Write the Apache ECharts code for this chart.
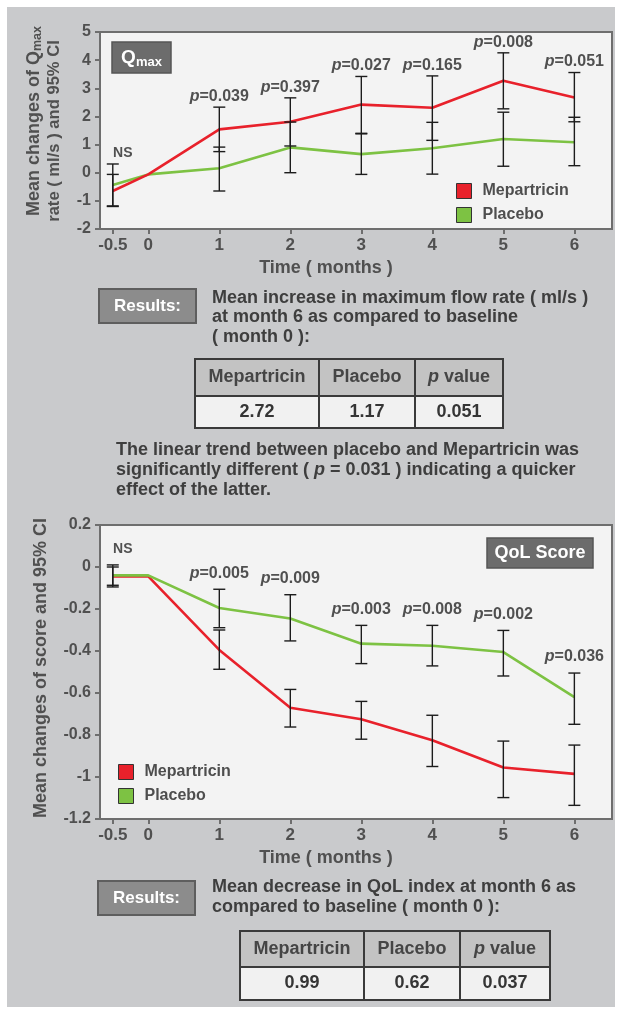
<!DOCTYPE html>
<html>
<head>
<meta charset="utf-8">
<script src="https://cdn.jsdelivr.net/npm/echarts@6/dist/echarts.min.js"></script>
<style>
html,body{margin:0;padding:0;background:#fff;}
#chart{width:622px;height:1013px;}
</style>
</head>
<body>
<div id="chart"></div>
<script>
// ---------- DATA ----------
const months = [-0.5, 0, 1, 2, 3, 4, 5, 6];

const qmaxMep      = [-0.65, -0.06, 1.54, 1.81, 2.42, 2.31, 3.27, 2.67];
const qmaxPla      = [-0.44, -0.06, 0.16, 0.90, 0.66, 0.87, 1.20, 1.08];
const qmaxMepLow   = [-1.20, null, 0.75, 0.95, 1.40, 1.15, 2.27, 1.81];
const qmaxMepHigh  = [-0.06, null, 2.33, 2.66, 3.42, 3.44, 4.26, 3.56];
const qmaxPlaLow   = [-1.18, null, -0.65, 0.00, -0.06, -0.05, 0.23, 0.25];
const qmaxPlaHigh  = [0.31, null, 0.91, 1.80, 1.38, 1.79, 2.15, 1.97];
const qmaxPLabels  = ['NS', '', '0.039', '0.397', '0.027', '0.165', '0.008', '0.051'];

const qolMep       = [-0.045, -0.045, -0.395, -0.67, -0.725, -0.825, -0.955, -0.985];
const qolPla       = [-0.04, -0.04, -0.195, -0.245, -0.365, -0.375, -0.405, -0.62];
const qolMepLow    = [-0.095, null, -0.487, -0.762, -0.82, -0.95, -1.098, -1.135];
const qolMepHigh   = [0.0, null, -0.30, -0.583, -0.64, -0.706, -0.829, -0.848];
const qolPlaLow    = [-0.087, null, -0.289, -0.352, -0.46, -0.471, -0.519, -0.749];
const qolPlaHigh   = [0.01, null, -0.106, -0.132, -0.278, -0.278, -0.302, -0.505];
const qolPLabels   = ['NS', '', '0.005', '0.009', '0.003', '0.008', '0.002', '0.036'];

const seriesNames  = ['Mepartricin', 'Placebo'];
const tableHeader  = ['Mepartricin', 'Placebo', 'p value'];
const qmaxTable    = ['2.72', '1.17', '0.051'];
const qolTable     = ['0.99', '0.62', '0.037'];

const qmaxResultLines = ['Mean increase in maximum flow rate ( ml/s )', 'at month 6 as compared to baseline', '( month 0 ):'];
const trendLines = ['The linear trend between placebo and Mepartricin was', 'significantly different ( {i|p} = 0.031 ) indicating a quicker', 'effect of the latter.'];
const qolResultLines = ['Mean decrease in QoL index at month 6 as', 'compared to baseline ( month 0 ):'];

// ---------- STYLE ----------
const FONT = "'Liberation Sans', Arial, sans-serif";
const RED = '#e8212b', GREEN = '#7dc243';
const AX = '#6e6e6e';
const BODY = 18;

function pairs(xs, ys) { return xs.map((x, i) => [x, ys[i]]); }
function ciData(lo, hi) {
  const out = [];
  months.forEach((m, i) => { if (lo[i] != null) out.push([m, lo[i], hi[i]]); });
  return out;
}
function labelData(hiA, hiB, labels) {
  const out = [];
  months.forEach((m, i) => {
    if (labels[i]) out.push([m, Math.max(hiA[i], hiB[i]), i]);
  });
  return out;
}

function errRender(params, api) {
  const x = api.value(0), lo = api.value(1), hi = api.value(2);
  const a = api.coord([x, hi]), b = api.coord([x, lo]);
  const w = 6;
  const st = { stroke: '#1c1c1c', lineWidth: 1.4 };
  return {
    type: 'group', children: [
      { type: 'line', shape: { x1: a[0], y1: a[1], x2: b[0], y2: b[1] }, style: st },
      { type: 'line', shape: { x1: a[0] - w, y1: a[1], x2: a[0] + w, y2: a[1] }, style: st },
      { type: 'line', shape: { x1: b[0] - w, y1: b[1], x2: b[0] + w, y2: b[1] }, style: st }
    ]
  };
}
function makeLabelRender(labels, offset) {
  return function (params, api) {
    const x = api.value(0), top = api.value(1), idx = api.value(2);
    const p = api.coord([x, top]);
    const txt = labels[idx];
    const isNS = txt === 'NS';
    return {
      type: 'text',
      x: p[0] + (isNS ? 10 : 0),
      y: p[1] - offset,
      style: {
        text: isNS ? 'NS' : '{i|p}{n|=' + txt + '}',
        fontFamily: FONT, fontWeight: 'bold', fontSize: isNS ? 14 : 16,
        fill: '#505050', align: 'center', verticalAlign: 'middle',
        rich: {
          i: { fontStyle: 'italic', fontWeight: 'bold', fontSize: 16, fontFamily: FONT, fill: '#505050' },
          n: { fontWeight: 'bold', fontSize: 16, fontFamily: FONT, fill: '#505050' }
        }
      }
    };
  };
}

function xAxisOpt(gi) {
  return {
    type: 'value', gridIndex: gi, min: -0.68, max: 6.53,
    axisLine: { show: true, onZero: false, lineStyle: { color: AX, width: 2 } },
    axisTick: { show: true, length: 5, customValues: months, lineStyle: { color: AX, width: 2 } },
    axisLabel: { customValues: months, margin: 8, fontFamily: FONT, fontWeight: 'bold', fontSize: 17, color: '#505050' },
    splitLine: { show: false }
  };
}
function yAxisOpt(gi, min, max, interval) {
  return {
    type: 'value', gridIndex: gi, min: min, max: max, interval: interval,
    axisLine: { show: true, onZero: false, lineStyle: { color: AX, width: 2 } },
    axisTick: { show: true, length: 5, lineStyle: { color: AX, width: 2 } },
    axisLabel: { margin: 9, fontFamily: FONT, fontWeight: 'bold', fontSize: 16, color: '#505050' },
    splitLine: { show: false }
  };
}
function lineSeries(name, data, color, gi) {
  return {
    type: 'line', name: name, xAxisIndex: gi, yAxisIndex: gi,
    data: pairs(months, data), symbol: 'none', color: color,
    lineStyle: { color: color, width: 2.6 }, z: 3
  };
}
function textEl(x, y, text, opts) {
  const fs = (opts && opts.fontSize) || BODY;
  const fill = (opts && opts.fill) || '#3e3e3e';
  return {
    type: 'text', x: x, y: y, z: 10,
    style: Object.assign({
      text: text, fontFamily: FONT, fontWeight: 'bold', fontSize: BODY, fill: '#3e3e3e',
      align: 'left', verticalAlign: 'middle',
      rich: { i: { fontStyle: 'italic', fontWeight: 'bold', fontFamily: FONT, fontSize: fs, fill: fill } }
    }, opts || {})
  };
}
function resultsBox(x, y) {
  return [
    { type: 'rect', z: 10, shape: { x: x, y: y, width: 97, height: 34 }, style: { fill: '#8c8c8c', stroke: '#5e5e5e', lineWidth: 2 } },
    textEl(x + 48.5, y + 17, 'Results:', { align: 'center', fill: '#ffffff', fontSize: 17 })
  ];
}
function table(x, y, cols, rows, header, values) {
  const els = [];
  const W = cols.reduce((a, b) => a + b, 0);
  els.push({ type: 'rect', z: 10, shape: { x: x, y: y, width: W, height: rows[0] }, style: { fill: '#c3c3c3', stroke: null } });
  els.push({ type: 'rect', z: 10, shape: { x: x, y: y + rows[0], width: W, height: rows[1] }, style: { fill: '#f1f1f1', stroke: null } });
  let cx = x;
  cols.forEach((c, i) => {
    const h = header[i] === 'p value' ? '{i|p} value' : header[i];
    els.push(textEl(cx + c / 2, y + rows[0] / 2, h, { align: 'center', fill: '#454545' }));
    els.push(textEl(cx + c / 2, y + rows[0] + rows[1] / 2, values[i], { align: 'center', fill: '#353535' }));
    cx += c;
  });
  const ls = { stroke: '#3a3a3a', lineWidth: 2, fill: null };
  els.push({ type: 'rect', z: 11, shape: { x: x, y: y, width: W, height: rows[0] + rows[1] }, style: ls });
  els.push({ type: 'line', z: 11, shape: { x1: x, y1: y + rows[0], x2: x + W, y2: y + rows[0] }, style: ls });
  cx = x;
  cols.slice(0, -1).forEach(c => {
    cx += c;
    els.push({ type: 'line', z: 11, shape: { x1: cx, y1: y, x2: cx, y2: y + rows[0] + rows[1] }, style: ls });
  });
  return els;
}

const graphics = [
  { type: 'rect', z: -100, shape: { x: 7, y: 7, width: 608, height: 1000 }, style: { fill: '#c9cacc' } },
  // y titles
  { type: 'text', x: 34, y: 121, rotation: Math.PI / 2, z: 10,
    style: { text: '{a|Mean changes of Q}{s|max}', align: 'center', verticalAlign: 'middle',
      rich: { a: { fontFamily: FONT, fontWeight: 'bold', fontSize: 18, fill: '#505050', lineHeight: 21 },
              s: { fontFamily: FONT, fontWeight: 'bold', fontSize: 12.5, fill: '#505050', verticalAlign: 'bottom' } } } },
  { type: 'text', x: 54, y: 131, rotation: Math.PI / 2, z: 10,
    style: { text: 'rate ( ml/s ) and 95% CI', align: 'center', verticalAlign: 'middle', fontFamily: FONT, fontWeight: 'bold', fontSize: 16.6, fill: '#505050' } },
  { type: 'text', x: 41, y: 668, rotation: Math.PI / 2, z: 10,
    style: { text: 'Mean changes of score and 95% CI', align: 'center', verticalAlign: 'middle', fontFamily: FONT, fontWeight: 'bold', fontSize: 18, fill: '#505050' } },
  // x titles
  textEl(326, 268, 'Time ( months )', { align: 'center', fontSize: 18, fill: '#505050' }),
  textEl(326, 858, 'Time ( months )', { align: 'center', fontSize: 18, fill: '#505050' }),
  // Qmax box
  { type: 'rect', z: 10, shape: { x: 112, y: 42, width: 59, height: 31 }, style: { fill: '#6c6c6c', stroke: '#555', lineWidth: 1.5 } },
  { type: 'text', x: 141.5, y: 57.5, z: 11,
    style: { text: '{q|Q}{s|max}', align: 'center', verticalAlign: 'middle',
      rich: { q: { fontFamily: FONT, fontWeight: 'bold', fontSize: 19, fill: '#fff', lineHeight: 22 },
              s: { fontFamily: FONT, fontWeight: 'bold', fontSize: 13, fill: '#fff', verticalAlign: 'bottom' } } } },
  // QoL box
  { type: 'rect', z: 10, shape: { x: 487, y: 538, width: 106, height: 30 }, style: { fill: '#6c6c6c', stroke: '#555', lineWidth: 1.5 } },
  textEl(540, 553, 'QoL Score', { align: 'center', fill: '#ffffff', fontSize: 18 })
];
graphics.push(...resultsBox(99, 289));
qmaxResultLines.forEach((l, i) => graphics.push(textEl(212, 298 + i * 19.5, l)));
graphics.push(...table(195, 359, [124, 96, 88], [37, 32], tableHeader, qmaxTable));
trendLines.forEach((l, i) => graphics.push(textEl(116, 450 + i * 20, l)));
graphics.push(...resultsBox(98, 881));
qolResultLines.forEach((l, i) => graphics.push(textEl(212, 887 + i * 20, l)));
graphics.push(...table(240, 931, [124, 96, 90], [36, 33], tableHeader, qolTable));

const legendText = { fontFamily: FONT, fontWeight: 'bold', fontSize: 16, color: '#4e4e4e', padding: [0, 0, 0, 6] };

const option = {
  animation: false,
  backgroundColor: '#ffffff',
  grid: [
    { left: 100, top: 32, width: 512, height: 197, show: true, backgroundColor: '#f3f3f3', borderColor: AX, borderWidth: 2 },
    { left: 100, top: 525, width: 512, height: 294, show: true, backgroundColor: '#f3f3f3', borderColor: AX, borderWidth: 2 }
  ],
  xAxis: [xAxisOpt(0), xAxisOpt(1)],
  yAxis: [yAxisOpt(0, -2, 5, 1), yAxisOpt(1, -1.2, 0.2, 0.2)],
  legend: [
    { data: seriesNames, orient: 'vertical', left: 456, top: 183, padding: 0, icon: 'rect', itemWidth: 15, itemHeight: 15, itemGap: 8,
      itemStyle: { borderColor: '#333', borderWidth: 1 }, textStyle: legendText, selectedMode: false },
    { data: seriesNames, orient: 'vertical', left: 118, top: 764, padding: 0, icon: 'rect', itemWidth: 15, itemHeight: 15, itemGap: 8,
      itemStyle: { borderColor: '#333', borderWidth: 1 }, textStyle: legendText, selectedMode: false }
  ],
  graphic: graphics,
  series: [
    lineSeries(seriesNames[1], qmaxPla, GREEN, 0),
    lineSeries(seriesNames[0], qmaxMep, RED, 0),
    { type: 'custom', xAxisIndex: 0, yAxisIndex: 0, renderItem: errRender, data: ciData(qmaxMepLow, qmaxMepHigh), encode: { x: 0, y: [1, 2] }, z: 5 },
    { type: 'custom', xAxisIndex: 0, yAxisIndex: 0, renderItem: errRender, data: ciData(qmaxPlaLow, qmaxPlaHigh), encode: { x: 0, y: [1, 2] }, z: 5 },
    { type: 'custom', xAxisIndex: 0, yAxisIndex: 0, renderItem: makeLabelRender(qmaxPLabels, 10.5), data: labelData(qmaxMepHigh, qmaxPlaHigh, qmaxPLabels), encode: { x: 0, y: 1 }, z: 6 },
    lineSeries(seriesNames[0], qolMep, RED, 1),
    lineSeries(seriesNames[1], qolPla, GREEN, 1),
    { type: 'custom', xAxisIndex: 1, yAxisIndex: 1, renderItem: errRender, data: ciData(qolMepLow, qolMepHigh), encode: { x: 0, y: [1, 2] }, z: 5 },
    { type: 'custom', xAxisIndex: 1, yAxisIndex: 1, renderItem: errRender, data: ciData(qolPlaLow, qolPlaHigh), encode: { x: 0, y: [1, 2] }, z: 5 },
    { type: 'custom', xAxisIndex: 1, yAxisIndex: 1, renderItem: makeLabelRender(qolPLabels, 16), data: labelData(qolMepHigh, qolPlaHigh, qolPLabels), encode: { x: 0, y: 1 }, z: 6 }
  ]
};

const chart = echarts.init(document.getElementById('chart'), null, { renderer: 'canvas' });
chart.setOption(option);
</script>
</body>
</html>
